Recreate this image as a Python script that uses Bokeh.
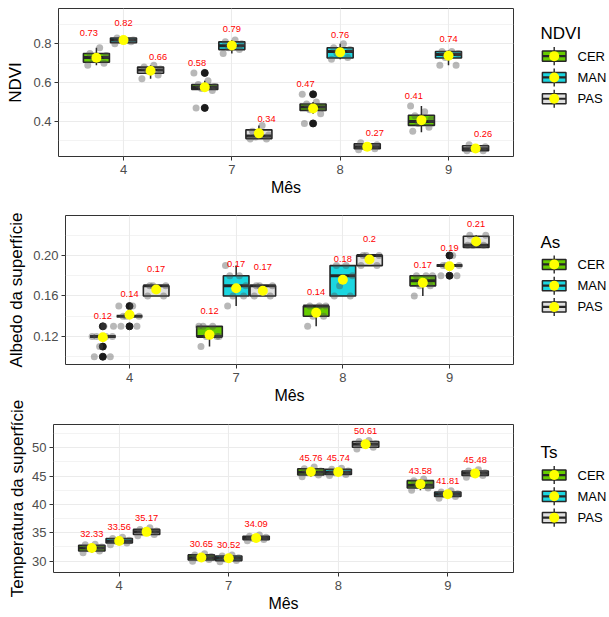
import math
from bokeh.plotting import figure
from bokeh.models import Range1d, FixedTicker, ColumnDataSource
from bokeh.layouts import column, row
from bokeh.embed import file_html
from bokeh.resources import INLINE
from bokeh.core.properties import value

# ---------------- data ----------------
MONTHS = ["4", "7", "8", "9"]
GROUPS = ["CER", "MAN", "PAS"]
GROUP_COLORS = ["#66CC00", "#1CD6E0", "#E0E0E0"]

# NDVI  (rows: CER, MAN, PAS ; columns: months 4, 7, 8, 9)
NDVI_LO = [[0.69, 0.56, 0.44, 0.345], [0.80, 0.75, 0.72, 0.69], [0.62, 0.31, 0.255, 0.25]]
NDVI_Q1 = [[0.705, 0.565, 0.457, 0.38], [0.805, 0.77, 0.727, 0.727], [0.648, 0.312, 0.26, 0.25]]
NDVI_MED = [[0.73, 0.575, 0.475, 0.40], [0.82, 0.79, 0.76, 0.745], [0.665, 0.325, 0.27, 0.26]]
NDVI_Q3 = [[0.75, 0.59, 0.49, 0.432], [0.83, 0.81, 0.78, 0.76], [0.68, 0.357, 0.285, 0.275]]
NDVI_HI = [[0.78, 0.61, 0.50, 0.48], [0.835, 0.82, 0.80, 0.765], [0.69, 0.38, 0.29, 0.28]]
NDVI_MEAN = [[0.728, 0.576, 0.467, 0.407], [0.819, 0.791, 0.756, 0.738], [0.661, 0.339, 0.27, 0.261]]
NDVI_OUT = [[[], [0.47, 0.65], [0.39, 0.54], []], [[], [], [], []], [[], [], [], []]]
NDVI_OBS = [
    [[0.69, 0.70, 0.72, 0.74, 0.75, 0.78], [0.47, 0.56, 0.57, 0.58, 0.59, 0.61, 0.65],
     [0.39, 0.44, 0.46, 0.47, 0.49, 0.50, 0.54], [0.35, 0.37, 0.39, 0.41, 0.43, 0.45, 0.48]],
    [[0.80, 0.81, 0.82, 0.82, 0.83], [0.75, 0.77, 0.78, 0.80, 0.81, 0.82],
     [0.72, 0.73, 0.75, 0.77, 0.78, 0.80], [0.69, 0.69, 0.73, 0.75, 0.76, 0.76]],
    [[0.62, 0.64, 0.66, 0.67, 0.68, 0.69], [0.31, 0.31, 0.32, 0.33, 0.35, 0.38],
     [0.255, 0.26, 0.27, 0.28, 0.29], [0.25, 0.25, 0.26, 0.27, 0.28]],
]
NDVI_TICKS = [0.4, 0.6, 0.8]
NDVI_TICK_LABELS = ["0.4", "0.6", "0.8"]
NDVI_MINOR = [0.3, 0.5, 0.7, 0.9]

# Albedo da superfície (As)
AS_LO = [[0.12, 0.11, 0.13, 0.16], [0.14, 0.15, 0.16, 0.19], [0.16, 0.16, 0.19, 0.21]]
AS_Q1 = [[0.12, 0.12, 0.14, 0.17], [0.14, 0.16, 0.16, 0.19], [0.16, 0.16, 0.19, 0.208]]
AS_MED = [[0.12, 0.12, 0.15, 0.175], [0.14, 0.17, 0.18, 0.19], [0.17, 0.17, 0.20, 0.21]]
AS_Q3 = [[0.12, 0.13, 0.15, 0.18], [0.14, 0.18, 0.19, 0.19], [0.17, 0.17, 0.20, 0.219]]
AS_HI = [[0.12, 0.13, 0.15, 0.18], [0.14, 0.19, 0.19, 0.19], [0.17, 0.17, 0.20, 0.22]]
AS_MEAN = [[0.1193, 0.1216, 0.1434, 0.173], [0.1414, 0.1677, 0.176, 0.1894], [0.1664, 0.1651, 0.196, 0.2138]]
AS_OUT = [[[0.10, 0.11, 0.13], [], [], []], [[0.13, 0.15], [], [], [0.18, 0.20]], [[], [], [], []]]
AS_OBS = [
    [[0.10, 0.10, 0.11, 0.12, 0.12, 0.12, 0.12, 0.13, 0.13], [0.11, 0.12, 0.12, 0.12, 0.13, 0.13, 0.13],
     [0.13, 0.14, 0.14, 0.15, 0.15, 0.15], [0.16, 0.17, 0.17, 0.18, 0.18, 0.18]],
    [[0.13, 0.13, 0.14, 0.14, 0.14, 0.15, 0.15], [0.15, 0.16, 0.16, 0.17, 0.18, 0.18, 0.19],
     [0.16, 0.16, 0.17, 0.18, 0.19, 0.19], [0.18, 0.18, 0.19, 0.19, 0.19, 0.20]],
    [[0.16, 0.16, 0.17, 0.17, 0.17], [0.16, 0.16, 0.17, 0.17, 0.17],
     [0.19, 0.19, 0.20, 0.20, 0.20], [0.21, 0.21, 0.21, 0.22, 0.22]],
]
AS_TICKS = [0.12, 0.16, 0.20]
AS_TICK_LABELS = ["0.12", "0.16", "0.20"]
AS_MINOR = [0.10, 0.14, 0.18, 0.22]

# Temperatura da superfície (Ts)
TS_LO = [[31.5, 30.0, 44.9, 42.5], [32.9, 29.9, 45.1, 41.1], [34.5, 33.6, 49.8, 44.8]]
TS_Q1 = [[31.8, 30.2, 45.2, 42.9], [33.2, 30.1, 45.3, 41.4], [34.7, 33.8, 50.1, 45.1]]
TS_MED = [[32.3, 30.6, 45.7, 43.4], [33.5, 30.5, 45.7, 41.8], [35.2, 34.1, 50.6, 45.5]]
TS_Q3 = [[32.8, 31.1, 46.3, 44.2], [34.0, 30.9, 46.2, 42.2], [35.6, 34.4, 51.1, 45.9]]
TS_HI = [[33.0, 31.3, 46.6, 44.5], [34.2, 31.1, 46.4, 42.4], [35.9, 34.6, 51.3, 46.1]]
TS_MEAN = [[32.33, 30.65, 45.76, 43.58], [33.56, 30.52, 45.74, 41.81], [35.17, 34.09, 50.61, 45.48]]
TS_OUT = [[[], [], [], []], [[], [], [], []], [[], [], [], []]]
TS_OBS = [
    [[31.5, 31.8, 32.2, 32.5, 32.9, 33.0], [30.0, 30.3, 30.6, 30.8, 31.1, 31.3],
     [44.9, 45.2, 45.6, 45.9, 46.3, 46.6], [42.5, 42.9, 43.3, 43.6, 44.2, 44.5]],
    [[32.9, 33.2, 33.5, 33.7, 34.0, 34.2], [29.9, 30.1, 30.4, 30.6, 30.9, 31.1],
     [45.1, 45.3, 45.6, 45.9, 46.2, 46.4], [41.1, 41.4, 41.7, 41.9, 42.2, 42.4]],
    [[34.5, 34.7, 35.0, 35.3, 35.6, 35.9], [33.6, 33.8, 34.0, 34.2, 34.4, 34.6],
     [49.8, 50.1, 50.5, 50.7, 51.1, 51.3], [44.8, 45.1, 45.4, 45.6, 45.9, 46.1]],
]
TS_TICKS = [30, 35, 40, 45, 50]
TS_TICK_LABELS = ["30", "35", "40", "45", "50"]
TS_MINOR = [32.5, 37.5, 42.5, 47.5, 52.5]

Y_TITLES = ["NDVI", "Albedo da superfície", "Temperatura da superfície"]
LEGEND_TITLES = ["NDVI", "As", "Ts"]

# ---------------- style / layout ----------------
FONT = "Liberation Sans"
LINE = "#262626"
GRID = "#EBEBEB"
BOX_OFFSETS = [-0.25, 0.0, 0.25]
BOX_W = 0.24
JITTER = [-0.08, 0.07, -0.03, 0.09, -0.06, 0.03, -0.10, 0.01, 0.10]
TITLE_W = 28          # left strip holding the rotated y titles
MAIN_W = 492          # main figure (ends at x = 520)
LEG_W = 89            # legend strip (ends at x = 609)
LEG_OFF = [27, 58, 87.5, 117]   # legend title, keys (relative to frame top)
HEIGHTS = [205, 207, 205]
TOPS = [8, 10, 12]
FRAMES = [148, 149, 148]
LEFTS = [30, 37, 25]


def fmt(v):
    return f"{round(v, 2):g}"


def build_panel(lo, q1, med, q3, hi, mean, outl, obs, ticks, tick_labels, minor,
                yrange, legtitle, height, top, frame_h, left, rise, lab_dodge):
    p = figure(width=MAIN_W, height=height, x_range=Range1d(0.4, 4.6), y_range=Range1d(*yrange),
               output_backend="svg", toolbar_location=None,
               min_border_left=left, min_border_right=7, min_border_top=top,
               min_border_bottom=height - top - frame_h)
    p.background_fill_color = "white"
    p.border_fill_color = "white"
    p.outline_line_color = "#333333"
    p.outline_line_width = 1

    p.xaxis.ticker = FixedTicker(ticks=[1, 2, 3, 4])
    p.xaxis.major_label_overrides = {i + 1: m for i, m in enumerate(MONTHS)}
    p.yaxis.ticker = FixedTicker(ticks=ticks, minor_ticks=minor)
    p.yaxis.major_label_overrides = {t: l for t, l in zip(ticks, tick_labels)}
    for ax in (p.xaxis[0], p.yaxis[0]):
        ax.axis_line_color = None
        ax.major_tick_line_color = "#333333"
        ax.major_tick_out = 4
        ax.major_tick_in = 0
        ax.minor_tick_line_color = None
        ax.major_label_text_font = FONT
        ax.major_label_text_font_size = "13px"
        ax.major_label_text_color = "#4D4D4D"
        ax.axis_label_text_font = FONT
        ax.axis_label_text_font_size = "16px"
        ax.axis_label_text_font_style = "normal"
        ax.axis_label_text_color = "black"
    p.xaxis.major_label_standoff = 4
    p.xaxis.axis_label_standoff = 2
    p.yaxis.major_label_standoff = 3
    p.xaxis.axis_label = "Mês"

    p.xgrid.grid_line_color = GRID
    p.xgrid.grid_line_width = 1.1
    p.ygrid.grid_line_color = GRID
    p.ygrid.grid_line_width = 1.1
    p.ygrid.minor_grid_line_color = GRID
    p.ygrid.minor_grid_line_width = 0.6

    box = dict(x=[], xl=[], xr=[], lo=[], q1=[], med=[], q3=[], hi=[], fill=[], mean=[],
               lx=[], lab=[], off=[])
    out = dict(x=[], y=[])
    pts = dict(x=[], y=[])
    for gi in range(3):
        for mi in range(4):
            x = mi + 1 + BOX_OFFSETS[gi]
            box["x"].append(x)
            box["xl"].append(x - BOX_W / 2)
            box["xr"].append(x + BOX_W / 2)
            box["lo"].append(lo[gi][mi])
            box["q1"].append(q1[gi][mi])
            box["med"].append(med[gi][mi])
            box["q3"].append(q3[gi][mi])
            box["hi"].append(hi[gi][mi])
            box["fill"].append(GROUP_COLORS[gi])
            box["mean"].append(mean[gi][mi])
            box["lx"].append(mi + 1 + lab_dodge * (gi - 1))
            box["lab"].append(fmt(mean[gi][mi]))
            box["off"].append(-rise[gi][mi])
            for v in outl[gi][mi]:
                out["x"].append(x)
                out["y"].append(v)
            for k, v in enumerate(obs[gi][mi]):
                pts["x"].append(x + JITTER[k % len(JITTER)])
                pts["y"].append(v)
    src = ColumnDataSource(box)
    p.segment(x0="x", y0="lo", x1="x", y1="q1", source=src, line_color=LINE, line_width=1.5)
    p.segment(x0="x", y0="q3", x1="x", y1="hi", source=src, line_color=LINE, line_width=1.5)
    p.vbar(x="x", width=BOX_W, bottom="q1", top="q3", source=src, fill_color="fill",
           line_color=LINE, line_width=1.6)
    p.segment(x0="xl", y0="med", x1="xr", y1="med", source=src, line_color=LINE, line_width=3)
    p.scatter(x="x", y="y", source=ColumnDataSource(out), size=7, fill_color="#1A1A1A",
              line_color="#1A1A1A")
    p.scatter(x="x", y="y", source=ColumnDataSource(pts), size=7, fill_color="#4D4D4D",
              fill_alpha=0.4, line_color=None)
    p.scatter(x="x", y="mean", source=src, size=10, fill_color="#FFFF00", line_color=None)
    p.text(x="lx", y="mean", text="lab", source=src, y_offset="off", text_align="center",
           text_baseline="middle", text_font=value(FONT), text_font_size=value("9.3px"),
           text_color="#FF0000")

    # legend strip
    q = figure(width=LEG_W, height=height, x_range=Range1d(0, LEG_W), y_range=Range1d(height, 0),
               x_axis_type=None, y_axis_type=None, min_border=0, output_backend="svg",
               toolbar_location=None)
    q.outline_line_color = None
    q.background_fill_color = "white"
    q.border_fill_color = "white"
    cx = 33.7
    ky = [top + d for d in LEG_OFF[1:]]
    ls = ColumnDataSource(dict(x=[cx] * 3, y=ky, y0=[k - 12.5 for k in ky], y1=[k + 12.5 for k in ky],
                               xl=[cx - 11.8] * 3, xr=[cx + 11.8] * 3, fill=GROUP_COLORS,
                               tx=[57] * 3, lab=GROUPS))
    q.segment(x0="x", y0="y0", x1="x", y1="y1", source=ls, line_color=LINE, line_width=1.4)
    q.rect(x="x", y="y", width=23.6, height=14, source=ls, fill_color="fill", line_color=LINE,
           line_width=1.5)
    q.segment(x0="xl", y0="y", x1="xr", y1="y", source=ls, line_color=LINE, line_width=2.2)
    q.scatter(x="x", y="y", source=ls, size=10, fill_color="#FFFF00", line_color=None)
    q.text(x="tx", y="y", text="lab", source=ls, text_align="left", text_baseline="middle",
           text_font=value(FONT), text_font_size=value("13px"), text_color="black")
    q.text(x=[20], y=[top + LEG_OFF[0]], text=[legtitle], text_align="left", text_baseline="middle",
           text_font=value(FONT), text_font_size=value("17px"), text_color="black")
    return row(p, q)


r1 = build_panel(NDVI_LO, NDVI_Q1, NDVI_MED, NDVI_Q3, NDVI_HI, NDVI_MEAN, NDVI_OUT, NDVI_OBS,
                 NDVI_TICKS, NDVI_TICK_LABELS, NDVI_MINOR, (0.2198, 0.9817), LEGEND_TITLES[0],
                 HEIGHTS[0], TOPS[0], FRAMES[0], LEFTS[0],
                 rise=[[24.5] * 4, [17] * 4, [14] * 4], lab_dodge=0.32)
r2 = build_panel(AS_LO, AS_Q1, AS_MED, AS_Q3, AS_HI, AS_MEAN, AS_OUT, AS_OBS,
                 AS_TICKS, AS_TICK_LABELS, AS_MINOR, (0.0923, 0.2395), LEGEND_TITLES[1],
                 HEIGHTS[1], TOPS[1], FRAMES[1], LEFTS[1],
                 rise=[[20.7, 24.3, 21, 18]] * 3, lab_dodge=0.25)
r3 = build_panel(TS_LO, TS_Q1, TS_MED, TS_Q3, TS_HI, TS_MEAN, TS_OUT, TS_OBS,
                 TS_TICKS, TS_TICK_LABELS, TS_MINOR, (28.0, 54.1), LEGEND_TITLES[2],
                 HEIGHTS[2], TOPS[2], FRAMES[2], LEFTS[2],
                 rise=[[13.5] * 4] * 3, lab_dodge=0.25)

# left strip with the rotated y-axis titles (allowed to run past each panel, as in the original)
TOTAL_H = sum(HEIGHTS)
tx, ty = [], []
y0 = 0
for h, tp, fh, cxp in zip(HEIGHTS, TOPS, FRAMES, [15.0, 16.0, 16.5]):
    tx.append(cxp)
    ty.append(TOTAL_H - (y0 + tp + fh / 2))
    y0 += h
t = figure(width=TITLE_W, height=TOTAL_H, x_range=Range1d(0, TITLE_W), y_range=Range1d(0, TOTAL_H),
           x_axis_type=None, y_axis_type=None, min_border=0, output_backend="svg", toolbar_location=None)
t.outline_line_color = None
t.text(x=tx, y=ty, text=Y_TITLES, angle=math.pi / 2, text_align="center", text_baseline="middle",
       text_font=value(FONT), text_font_size=value("17px"), text_color="black")

layout = row(t, column(r1, r2, r3))
open("out.html", "w").write(file_html(layout, INLINE))
